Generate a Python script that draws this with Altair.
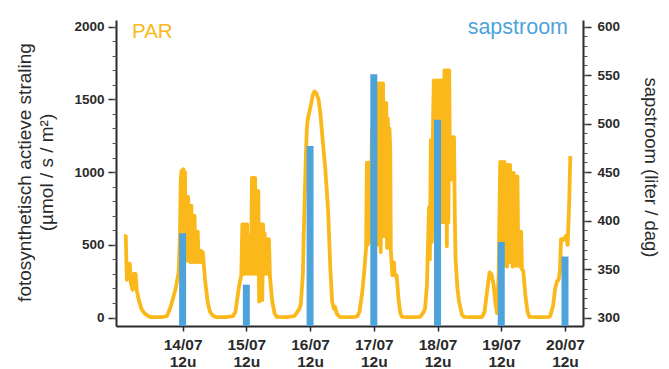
import json
import altair as alt
import pandas as pd

# ---- PAR (hours since 13/07 00:00, µmol/s/m²) ----
par_day13 = [(13.9, 560), (14.6, 560), (15.0, 260), (15.7, 370), (16.1, 370), (16.5, 240),
             (17.2, 190), (17.6, 300), (18.3, 300), (18.7, 190), (19.5, 120), (20.5, 60),
             (21.6, 30), (23.0, 10), (24.2, 3), (28.0, 3), (30.1, 10)]
par_day14 = [(31.0, 50), (31.6, 80), (33.4, 200), (34.5, 310), (35.0, 580), (35.3, 950),
             (35.6, 1010), (36.3, 1020), (36.6, 420), (36.9, 1000), (37.2, 400), (37.5, 830),
             (37.8, 390), (38.1, 830), (38.4, 400), (38.7, 770), (39.0, 380), (39.3, 770),
             (39.6, 390), (39.9, 700), (40.2, 380), (40.5, 700), (40.8, 400), (41.1, 590),
             (41.4, 380), (41.7, 590), (42.0, 390), (42.3, 460), (42.6, 380), (42.9, 460),
             (43.2, 390), (43.6, 450), (44.5, 250), (45.5, 100), (46.3, 40), (47.3, 15),
             (48.5, 3), (52.0, 3), (55.0, 10)]
par_day15 = [(55.9, 40), (57.3, 220), (58.1, 290), (58.5, 640), (58.8, 300), (59.1, 640),
             (59.4, 300), (59.7, 640), (60.0, 310), (60.3, 640), (60.6, 300), (60.9, 560),
             (61.2, 320), (61.5, 560), (61.8, 300), (62.1, 960), (62.4, 320), (62.7, 960),
             (63.0, 300), (63.3, 960), (63.6, 320), (63.9, 870), (64.2, 300), (64.5, 870),
             (64.8, 110), (65.1, 640), (65.4, 300), (65.7, 640), (66.0, 120), (66.3, 640),
             (66.6, 300), (66.9, 580), (67.2, 310), (67.5, 540), (67.8, 300), (68.1, 540),
             (68.5, 540), (68.9, 280), (69.7, 120), (70.6, 30), (71.5, 5), (75.0, 3)]
par_day16 = [(78.0, 10), (78.7, 25), (80.0, 60), (80.5, 90), (81.3, 300), (81.6, 560),
             (82.4, 1100), (82.8, 1300), (83.1, 1360), (83.8, 1420), (84.5, 1480), (85.0, 1530),
             (85.7, 1555), (86.4, 1540), (87.2, 1500), (87.9, 1400), (88.6, 1250), (89.7, 1030),
             (90.8, 740), (91.6, 350), (92.3, 110), (93.0, 60), (93.4, 75), (94.1, 25),
             (95.2, 5), (98.0, 3)]
par_day17 = [(101.0, 5), (101.9, 10), (102.6, 40), (103.7, 180), (104.4, 320), (105.1, 480),
             (105.4, 1065), (105.7, 500), (106.0, 1065), (106.3, 520), (106.6, 1065), (106.9, 600),
             (107.3, 1300), (107.7, 700), (108.1, 1500), (108.5, 700), (108.9, 1550), (109.3, 500),
             (109.7, 1610), (110.0, 560), (110.3, 1610), (110.6, 450), (110.9, 1610), (111.2, 560),
             (111.5, 1610), (111.8, 560), (112.1, 1475), (112.4, 560), (112.7, 1475), (113.0, 480),
             (113.3, 1370), (113.6, 480), (113.9, 1300), (114.2, 1150), (114.4, 470), (114.7, 380),
             (115.0, 290), (115.3, 380), (115.6, 380), (115.9, 290), (116.6, 290), (117.3, 130),
             (118.0, 30), (118.6, 5), (122.0, 3)]
par_day18 = [(125.5, 5), (126.5, 30), (127.3, 60), (128.0, 220), (128.8, 760), (129.1, 400),
             (129.5, 1220), (129.9, 520), (130.2, 1220), (130.6, 1630), (131.0, 600), (131.5, 1630),
             (132.0, 700), (132.5, 1630), (133.0, 655), (133.4, 1630), (133.7, 655), (134.0, 1630),
             (134.3, 655), (134.6, 1700), (134.9, 655), (135.2, 1700), (135.5, 490), (135.8, 1700),
             (136.1, 655), (136.4, 1700), (136.7, 950), (137.0, 1240), (137.3, 950), (137.6, 1240),
             (137.9, 950), (138.2, 1240), (138.5, 700), (138.8, 400), (139.5, 200), (140.1, 110),
             (141.2, 20), (142.0, 5), (145.0, 3)]
par_day19 = [(148.5, 3), (149.0, 10), (149.7, 40), (150.8, 200), (151.6, 310), (152.3, 300),
             (153.1, 230), (153.8, 100), (154.4, 30), (155.0, 300), (155.6, 1070), (156.0, 400),
             (156.4, 1070), (156.8, 350), (157.2, 1070), (157.5, 400), (157.9, 1050), (158.2, 350),
             (158.6, 1050), (158.9, 400), (159.3, 1050), (159.6, 380), (160.0, 995), (160.3, 350),
             (160.7, 995), (161.0, 400), (161.4, 970), (161.7, 355), (162.1, 970), (162.4, 400),
             (162.8, 590), (163.1, 350), (163.5, 590), (163.8, 330), (164.3, 320), (165.1, 150),
             (165.9, 40), (166.6, 5), (170.0, 3)]
par_day20 = [(174.0, 5), (174.4, 10), (175.5, 80), (176.3, 200), (177.0, 250), (177.6, 260),
             (178.1, 320), (178.5, 540), (179.0, 530), (179.5, 540), (180.3, 560), (181.0, 500),
             (181.6, 800), (182.0, 1110)]

# ---- sapstroom (liter / dag), one bar per day at 12u ----
sap_hours = [36, 60, 84, 108, 132, 156, 180]
sap_values = [387, 334, 477, 551, 504, 378, 363]
tick_labels = ["14/07|12u", "15/07|12u", "16/07|12u", "17/07|12u",
               "18/07|12u", "19/07|12u", "20/07|12u"]
par_ticks = [0, 500, 1000, 1500, 2000]
sap_ticks = [300, 350, 400, 450, 500, 550, 600]

ORANGE = "#FBB81B"
BLUE = "#4EA3DB"
DARK = "#2a2a2a"
FONT = "Liberation Sans"
W, H = 467, 306
X_DOM = [12.8, 184.9]
PAR_DOM = [-58, 2046]
SAP_DOM = [291.4, 606.9]

rows = []
for day in [par_day13, par_day14, par_day15, par_day16, par_day17, par_day18, par_day19, par_day20]:
    rows.extend(day)
line_df = pd.DataFrame(rows, columns=["h", "par"])
bar_df = pd.DataFrame({"h": sap_hours, "sap": sap_values})

label_expr = "split(" + json.dumps(tick_labels) + "[round((datum.value - 36) / 24)], '|')"

xenc = alt.X(
    "h:Q",
    scale=alt.Scale(domain=X_DOM, nice=False, zero=False),
    axis=alt.Axis(values=sap_hours, title=None, labelExpr=label_expr, tickSize=5,
                  labelPadding=6, labelFontSize=15.5, labelLineHeight=17, labelColor=DARK,
                  labelFont=FONT, labelFontWeight="bold", domainColor=DARK, domainWidth=2,
                  tickColor=DARK, tickWidth=1.5, grid=False, labelFlush=False,
                  labelOverlap=False),
)

par_scale = alt.Scale(domain=PAR_DOM, nice=False, zero=False)
sap_scale = alt.Scale(domain=SAP_DOM, nice=False, zero=False)

line = alt.Chart(line_df).mark_line(color=ORANGE, strokeWidth=3.8, strokeJoin="round").encode(
    x=xenc,
    y=alt.Y("par:Q", scale=par_scale,
            axis=alt.Axis(orient="left", values=par_ticks, grid=False, format="d",
                          title=["fotosynthetisch actieve straling", "(µmol / s / m²)"],
                          titleFont=FONT, titleFontSize=19, titleFontWeight="normal",
                          titleColor=DARK, titleAngle=270, titleX=-92, titleY=152,
                          titleAlign="center", titleBaseline="middle", titleLineHeight=22,
                          labelFont=FONT, labelFontSize=13.5, labelFontWeight="bold",
                          labelColor=DARK, labelPadding=4,
                          tickSize=8, tickWidth=1.5, tickColor=DARK,
                          domainColor=DARK, domainWidth=2)),
)

bars = alt.Chart(bar_df).mark_bar(size=7, color=BLUE).encode(
    x=xenc,
    y=alt.Y("sap:Q", scale=sap_scale,
            axis=alt.Axis(orient="right", values=sap_ticks, grid=False, format="d",
                          title="sapstroom (liter / dag)",
                          titleFont=FONT, titleFontSize=18.5, titleFontWeight="normal",
                          titleColor=DARK, titleAngle=90, titleX=67, titleY=147,
                          titleAlign="center", titleBaseline="middle",
                          labelFont=FONT, labelFontSize=13.5, labelFontWeight="bold",
                          labelColor=DARK, labelPadding=6,
                          tickSize=8, tickWidth=1.5, tickColor=DARK,
                          domainColor=DARK, domainWidth=2)),
    y2=alt.datum(SAP_DOM[0]),
)

minor_left = alt.Chart(line_df).mark_point(opacity=0).encode(
    x=xenc,
    y=alt.Y("par:Q", scale=par_scale,
            axis=alt.Axis(orient="left", values=list(range(0, 2001, 100)), labels=False,
                          domain=False, title=None, grid=False, tickSize=4, tickWidth=1,
                          tickColor="#555")),
)
minor_right = alt.Chart(bar_df).mark_point(opacity=0).encode(
    x=xenc,
    y=alt.Y("sap:Q", scale=sap_scale,
            axis=alt.Axis(orient="right", values=list(range(300, 601, 10)), labels=False,
                          domain=False, title=None, grid=False, tickSize=4, tickWidth=1,
                          tickColor="#555")),
)

one = pd.DataFrame({"k": [0]})
par_text = alt.Chart(one).mark_text(text="PAR", font=FONT, fontSize=20.5, color=ORANGE,
                                    align="left", baseline="alphabetic").encode(
    x=alt.value(16), y=alt.value(17.5))
sap_text = alt.Chart(one).mark_text(text="sapstroom", font=FONT, fontSize=21.5, color=BLUE,
                                    align="right", baseline="alphabetic").encode(
    x=alt.value(452), y=alt.value(14))

chart = alt.layer(line, bars, minor_left, minor_right, par_text, sap_text).resolve_scale(
    y="independent"
).properties(
    width=W, height=H,
    autosize=alt.AutoSizeParams(type="none"),
    padding={"left": 108, "top": 12, "right": 78, "bottom": 43},
).configure_view(stroke=None)

chart.save("out.html", embed_options={"renderer": "svg", "actions": False})
